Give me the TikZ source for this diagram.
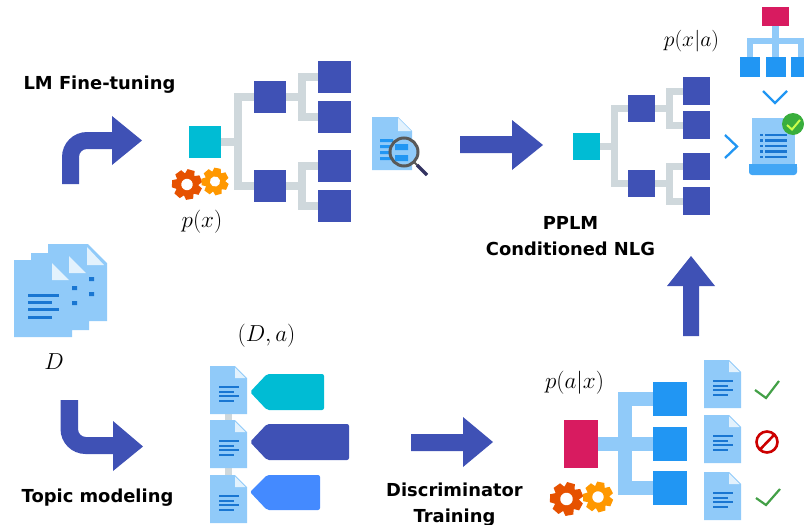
\documentclass[tikz,border=0pt]{standalone}
\usepackage{fontspec}
\newfontfamily\lab{DejaVu Sans}
\usetikzlibrary{calc}
\definecolor{indig}{HTML}{3F51B5}
\definecolor{cyn}{HTML}{00BCD4}
\definecolor{pnk}{HTML}{D81B60}
\definecolor{blu}{HTML}{2196F3}
\definecolor{lblu}{HTML}{90CAF9}
\definecolor{pale}{HTML}{E3F2FD}
\definecolor{dblu}{HTML}{1976D2}
\definecolor{gry}{HTML}{CFD8DC}
\definecolor{tagb}{HTML}{448AFF}
\definecolor{grn}{HTML}{43A047}
\definecolor{gearA}{HTML}{E65100}
\definecolor{gearB}{HTML}{FF9800}
\tikzset{
  x=1pt,y=-1pt,
  sq/.style={fill=#1,inner sep=0pt,outer sep=0pt,draw=none},
  bold label/.style={font=\lab\bfseries\fontsize{17.9}{20}\selectfont,text=black,inner sep=0pt,anchor=base},
  math label/.style={font=\fontsize{25}{29}\selectfont,text=black,inner sep=0pt,scale=.93},
  math small/.style={font=\fontsize{25}{29}\selectfont,text=black,inner sep=0pt,scale=.87},
  gtree/.style={draw=gry,line width=8pt},
  gtreeb/.style={draw=gry,line width=7pt},
  btree/.style={draw=lblu,line width=13.5pt},
  docline/.style={draw=dblu,line width=2pt},
  chev/.style={draw=blu,line width=2.3pt},
  okmark/.style={draw=grn,line width=2.2pt},
  docicon/.pic={
    \fill[lblu] (0,0) -- (25,0) -- (37,12) -- (37,48) -- (0,48) -- cycle;
    \fill[pale] (25,1.5) -- (35.5,12) -- (25,12) -- cycle;
    \draw[docline] (9,21) -- (29,21) (9,25.6) -- (24,25.6) (9,30.2) -- (29,30.2) (9,34.8) -- (24,34.8);
  },
  gearicon/.pic={
    \fill[pic actions] (0,0) circle (.76);
    \foreach \i in {0,...,6}
      \fill[pic actions,rotate=\i*51.43] (-.34,.62) -- (-.24,1) -- (.24,1) -- (.34,.62) -- cycle;
    \fill[white] (0,0) circle (.38);
  }
}
\begin{document}
\begin{tikzpicture}
\useasboundingbox (0,0) rectangle (804,525);
% --- tree 1
\coordinate (t1a) at (238,142);
\node[sq=cyn,minimum width=32,minimum height=32] (r1) at (205,142) {};
\node[sq=indig,minimum width=32,minimum height=32] (m1) at (270,97) {};
\node[sq=indig,minimum width=32,minimum height=32] (m2) at (270,186) {};
\node[sq=indig,minimum width=33,minimum height=32] (l1) at (334.5,77) {};
\node[sq=indig,minimum width=33,minimum height=32] (l2) at (334.5,117) {};
\node[sq=indig,minimum width=33,minimum height=32] (l3) at (334.5,166) {};
\node[sq=indig,minimum width=33,minimum height=32] (l4) at (334.5,206) {};
\draw[gtree] (r1.east) -- (t1a);
\draw[gtree] (m1.west) -- ++(-16,0) -- ++(0,89) -- (m2.west);
\draw[gtree] (l1.west) -- ++(-16,0) -- ++(0,40) -- (l2.west);
\draw[gtree] (l3.west) -- ++(-16,0) -- ++(0,40) -- (l4.west);
\draw[gtree] (m1.east) -- ++(16,0);
\draw[gtree] (m2.east) -- ++(16,0);
% --- tree 2
\coordinate (t2a) at (614,146.5);
\node[sq=cyn,minimum width=27,minimum height=27] (r2) at (586.5,146.5) {};
\node[sq=indig,minimum width=27,minimum height=27] (n1) at (641.5,108.5) {};
\node[sq=indig,minimum width=27,minimum height=27] (n2) at (641.5,183.5) {};
\node[sq=indig,minimum width=27,minimum height=28] (k1) at (696.5,91) {};
\node[sq=indig,minimum width=27,minimum height=28] (k2) at (696.5,125) {};
\node[sq=indig,minimum width=27,minimum height=27] (k3) at (696.5,166.5) {};
\node[sq=indig,minimum width=27,minimum height=28] (k4) at (696.5,201) {};
\draw[gtreeb] (r2.east) -- (t2a);
\draw[gtreeb] (n1.west) -- ++(-14,0) -- ++(0,75) -- (n2.west);
\draw[gtreeb] (k1.west) -- ++(-14,0) -- ++(0,34) -- (k2.west);
\draw[gtreeb] (k3.west) -- ++(-14,0) -- ++(0,34.5) -- (k4.west);
\draw[gtreeb] (n1.east) -- ++(14,0);
\draw[gtreeb] (n2.east) -- ++(14,0);
% --- tree 3
\node[sq=pnk,minimum width=34,minimum height=48] (r3) at (581,444) {};
\node[sq=blu,minimum width=34,minimum height=34] (q1) at (670,399) {};
\node[sq=blu,minimum width=34,minimum height=34] (q2) at (670,444) {};
\node[sq=blu,minimum width=34,minimum height=34] (q3) at (670,488) {};
\draw[btree] (q1.west) -- ++(-28,0) -- ++(0,89) -- (q3.west);
\draw[btree] (r3.east) -- (q2.west);
% --- bent arrows
\fill[indig] (62,184) [rounded corners=25pt] -- (62,132) [sharp corners] -- (112,132) -- (112,116) -- (142,140.5) -- (112,165) -- (112,149) [rounded corners=8pt] -- (79,149) [sharp corners] -- (79,184) -- cycle;
\fill[indig] (60.5,400) [rounded corners=25pt] -- (60.5,454) [sharp corners] -- (113,454) -- (113,471) -- (143,446.5) -- (113,421) -- (113,437) [rounded corners=8pt] -- (78,437) [sharp corners] -- (78,400) -- cycle;
% --- straight arrows
\fill[indig] (460,136) -- (512,136) -- (512,120) -- (543,145) -- (512,170) -- (512,153) -- (460,153) -- cycle;
\fill[indig] (411,434) -- (463,434) -- (463,417) -- (493,442) -- (463,467) -- (463,451) -- (411,451) -- cycle;
\fill[indig] (683,336) -- (683,286) -- (667,286) -- (691,256) -- (715,286) -- (699,286) -- (699,336) -- cycle;
% --- gears
\pic[gearA,fill=gearA,scale=15,rotate=10] (g1) at (187,184.5) {gearicon};
\pic[gearB,fill=gearB,scale=13.5,rotate=15] (g2) at (215,181.5) {gearicon};
\pic[gearA,fill=gearA,scale=16.5,rotate=10] (g3) at (566.5,499) {gearicon};
\pic[gearB,fill=gearB,scale=15,rotate=15] (g4) at (598,497) {gearicon};
% --- document with lens
\fill[lblu] (372,117) -- (398,117) -- (412,131) -- (412,170) -- (372,170) -- cycle;
\fill[pale] (398,118) -- (411,131) -- (398,131) -- cycle;
\fill[blu] (380,139) rectangle (393,142) (380,145) rectangle (393,148) (380,151) rectangle (393,154) (380,157) rectangle (393,160);
\draw[line width=3pt,draw=black!65,fill=lblu] (404,152) circle (14);
\fill[blu] (395,144) rectangle (408,150) (395,155) rectangle (408,161);
\draw[draw=black!65,line width=2pt] (414,162) -- (419,167);
\draw[draw=black!70!blue!60!gray,line width=3.5pt] (417,165) -- (427,175);
% --- document stack
\fill[lblu] (14,260) -- (31,260) -- (31,253) -- (48,253) -- (48,244) -- (88,244) -- (107,263) -- (107,321) -- (89,321) -- (89,330) -- (72,330) -- (72,337) -- (14,337) -- cycle;
\fill[pale] (52,263) -- (69,280) -- (52,280) -- cycle (69,256) -- (86,273) -- (69,273) -- cycle (87,247) -- (104,265) -- (87,265) -- cycle;
\draw[draw=dblu,line width=3pt] (28,295) -- (59,295) (28,302) -- (52,302) (28,309.5) -- (59,309.5) (28,317) -- (52,317);
\fill[dblu] (72,286) rectangle (77,290) (72,301) rectangle (77,305) (89,277) rectangle (94,281) (89,292) rectangle (94,296);
% --- middle documents and tags
\coordinate (dm1) at (228.5,414);
\coordinate (dm3) at (228.5,475);
\draw[draw=gry,line width=7pt] (dm1) -- (dm3);
\pic (d1) at (210,366) {docicon};
\pic (d2) at (210,420) {docicon};
\pic (d3) at (210,475) {docicon};
\fill[cyn,rounded corners=2pt] (250,392) -- (267,374) -- (324,374) -- (324,410) -- (267,410) -- cycle;
\fill[indig,rounded corners=2pt] (250,442) -- (267,424) -- (349,424) -- (349,460) -- (267,460) -- cycle;
\fill[tagb,rounded corners=2pt] (250,492) -- (267,475) -- (320,475) -- (320,510) -- (267,510) -- cycle;
% --- right documents and marks
\pic (d4) at (704,360) {docicon};
\pic (d5) at (704,415) {docicon};
\pic (d6) at (704,472) {docicon};
\draw[okmark] (755,390) -- (766,398) -- (779,381);
\draw[okmark] (756,498) -- (766,505) -- (780,489);
\draw[draw=red!80!black,line width=2.6pt] (767,442) circle (10.5) (760,449.5) -- (774.5,434.5);
% --- hierarchy icon
\node[sq=pnk,minimum width=27,minimum height=19] (hr) at (775.5,16.5) {};
\node[sq=blu,minimum width=20,minimum height=20] (ha) at (750,67) {};
\node[sq=blu,minimum width=20,minimum height=20] (hb) at (775.5,67) {};
\node[sq=blu,minimum width=20,minimum height=20] (hc) at (801,67) {};
\draw[draw=lblu,line width=6.5pt] (ha.north) -- ++(0,-16) -- ++(51,0) -- (hc.north);
\draw[draw=lblu,line width=6.5pt] (hr.south) -- (hb.north);
\coordinate (cd1) at (763,91); \coordinate (cd2) at (775,103); \coordinate (cd3) at (787,91);
\draw[chev] (cd1) -- (cd2) -- (cd3);
\coordinate (cr1) at (725,135); \coordinate (cr2) at (737,146.5); \coordinate (cr3) at (725,158);
\draw[chev] (cr1) -- (cr2) -- (cr3);
% --- paper icon
\fill[lblu] (752,118) rectangle (795,165);
\fill[blu!85!white,rounded corners=3pt] (749,164) -- (797,164) -- (797,175) -- (749,175) -- cycle;
\fill[blu!85!white] (749,164) rectangle (797,170);
\foreach \yy in {135,140.5,146,151.5,157}{
  \fill[dblu] (760,\yy-1.2) rectangle (762.5,\yy+1.2);
  \fill[dblu] (765,\yy-1.2) rectangle (787,\yy+1.2);
}
\fill[grn!85!green] (793,124) circle (11);
\draw[draw=green!30!yellow!70!white,line width=2pt] (787,125) -- (792,129.5) -- (800,120);
% --- labels
\node[bold label] (tA) at (99.5,89) {LM Fine-tuning};
\node[bold label] (tB) at (570.5,229) {PPLM};
\node[bold label] (tC) at (570.5,255) {Conditioned NLG};
\node[bold label] (tD) at (97.5,502) {Topic modeling};
\node[bold label] (tE) at (454.5,496) {Discriminator};
\node[bold label] (tF) at (454.5,522) {Training};
\node[math label] (mA) at (202,222) {$p(x)$};
\node[math small] (mB) at (691.5,41) {$p(x|a)$};
\node[math label] (mC) at (54,362) {$D$};
\node[math label] (mD) at (266.5,336) {$(D,a)$};
\node[math label] (mE) at (574.5,383) {$p(a|x)$};
\end{tikzpicture}
\end{document}
